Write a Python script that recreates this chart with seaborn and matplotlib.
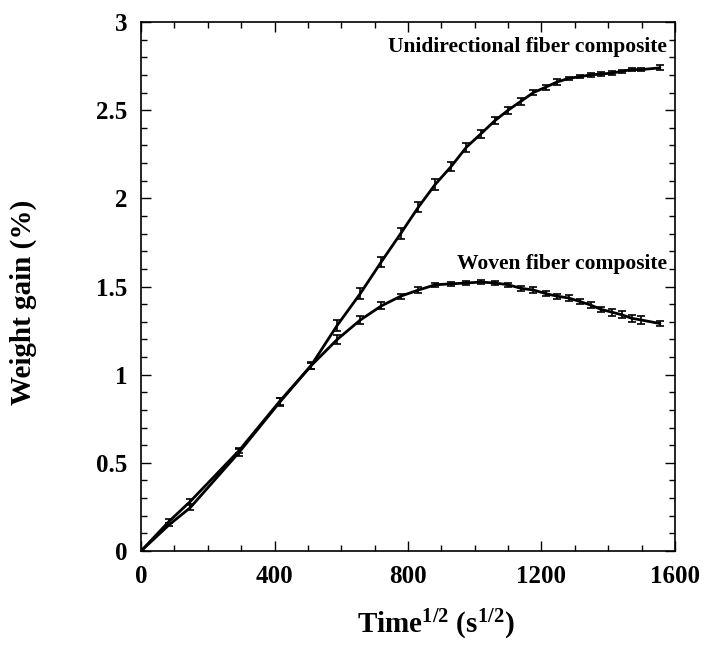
import numpy as np
import pandas as pd
import matplotlib
matplotlib.use('Agg')
import matplotlib.pyplot as plt
import seaborn as sns
from matplotlib.ticker import MultipleLocator, FormatStrFormatter

# ── Veri ──
zaman_kok = [0, 85, 147, 294, 416, 509, 588, 657, 720, 778, 831, 882, 929, 975,
             1018, 1060, 1100, 1138, 1176, 1212, 1247, 1281, 1315, 1347, 1379,
             1410, 1440, 1470, 1499, 1555]

tek_yonlu = [0, 0.15, 0.245, 0.56, 0.845, 1.05, 1.28, 1.46, 1.64, 1.80, 1.95,
             2.08, 2.18, 2.29, 2.365, 2.44, 2.50, 2.55, 2.60, 2.63, 2.66, 2.68,
             2.69, 2.70, 2.705, 2.71, 2.72, 2.73, 2.73, 2.74]
tek_yonlu_hata = [0, 0.01, 0.015, 0.02, 0.025, 0.02, 0.03, 0.03, 0.03, 0.03,
                  0.03, 0.03, 0.025, 0.025, 0.025, 0.02, 0.02, 0.02, 0.015, 0.015,
                  0.015, 0.01, 0.01, 0.01, 0.01, 0.01, 0.01, 0.01, 0.01, 0.015]

dokuma = [0, 0.17, 0.28, 0.57, 0.85, 1.05, 1.20, 1.31, 1.39, 1.445, 1.48, 1.51,
          1.515, 1.52, 1.525, 1.52, 1.51, 1.49, 1.48, 1.46, 1.445, 1.435, 1.415,
          1.395, 1.37, 1.355, 1.34, 1.32, 1.31, 1.29]
dokuma_hata = [0, 0.01, 0.015, 0.015, 0.02, 0.015, 0.025, 0.02, 0.02, 0.015,
               0.015, 0.01, 0.01, 0.01, 0.01, 0.01, 0.01, 0.015, 0.015, 0.015,
               0.015, 0.015, 0.015, 0.015, 0.015, 0.02, 0.02, 0.02, 0.02, 0.015]

etiket_tek = 'Unidirectional fiber composite'
etiket_dokuma = 'Woven fiber composite'

df = pd.DataFrame({
    'x': zaman_kok * 2,
    'y': tek_yonlu + dokuma,
    'seri': [etiket_tek] * len(zaman_kok) + [etiket_dokuma] * len(zaman_kok),
})

sns.set_theme(style='ticks')
plt.rcParams['font.family'] = ['Liberation Serif', 'DejaVu Serif']
plt.rcParams['font.weight'] = 'bold'
plt.rcParams['text.color'] = 'black'
plt.rcParams['axes.labelcolor'] = 'black'
plt.rcParams['xtick.color'] = 'black'
plt.rcParams['ytick.color'] = 'black'
plt.rcParams['mathtext.fontset'] = 'custom'
plt.rcParams['mathtext.rm'] = 'Liberation Serif:bold'
plt.rcParams['mathtext.bf'] = 'Liberation Serif:bold'
plt.rcParams['mathtext.it'] = 'Liberation Serif:bold'

fig = plt.figure(figsize=(7.04, 6.45), dpi=100)
ax = fig.add_axes([0.2003, 0.1457, 0.7585, 0.8202])

sns.lineplot(data=df, x='x', y='y', hue='seri',
             palette={etiket_tek: 'black', etiket_dokuma: 'black'},
             linewidth=2.0, legend=False, ax=ax, errorbar=None)

ax.errorbar(zaman_kok, tek_yonlu, yerr=tek_yonlu_hata, fmt='none',
            ecolor='black', elinewidth=1.2, capsize=3, capthick=1.2)
ax.errorbar(zaman_kok, dokuma, yerr=dokuma_hata, fmt='none',
            ecolor='black', elinewidth=1.2, capsize=3, capthick=1.2)

ax.set_xlim(0, 1600)
ax.set_ylim(0, 3)
ax.xaxis.set_major_locator(MultipleLocator(400))
ax.xaxis.set_minor_locator(MultipleLocator(100))
ax.yaxis.set_major_locator(MultipleLocator(0.5))
ax.yaxis.set_minor_locator(MultipleLocator(0.1))
ax.yaxis.set_major_formatter(FormatStrFormatter('%g'))

ax.tick_params(which='both', direction='in', top=True, right=True,
               colors='black', labelcolor='black', width=1.0)
ax.tick_params(which='major', length=7, labelsize=18, pad=10)
ax.tick_params(which='minor', length=4)
for lbl in ax.get_xticklabels() + ax.get_yticklabels():
    lbl.set_fontweight('bold')

for kenar in ax.spines.values():
    kenar.set_visible(True)
    kenar.set_linewidth(1.2)
    kenar.set_color('black')

ax.set_xlabel(r'Time$^{1/2}$ (s$^{1/2}$)', fontsize=21,
              fontweight='bold', color='black')
ax.set_ylabel('Weight gain (%)', fontsize=21, fontweight='bold', color='black')
ax.xaxis.set_label_coords(0.552, -0.108)
ax.yaxis.set_label_coords(-0.195, 0.47)

ax.text(1575, 2.86, etiket_tek, ha='right', va='center', fontsize=15.5,
        fontweight='bold', color='black')
ax.text(1575, 1.63, etiket_dokuma, ha='right', va='center', fontsize=15.5,
        fontweight='bold', color='black')

fig.savefig('out.png', dpi=100)
